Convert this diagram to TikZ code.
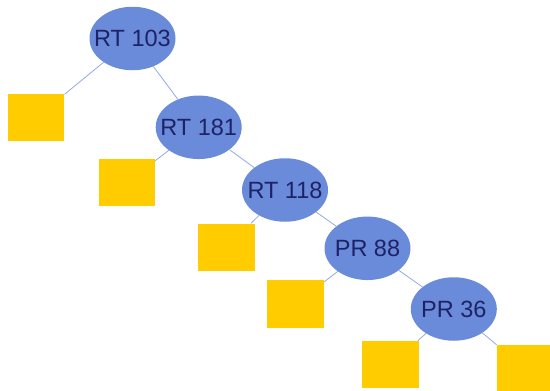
\documentclass[tikz,border=0pt]{standalone}
\usepackage{fontspec}
\setmainfont{Liberation Sans}
\usetikzlibrary{shapes.geometric}
\definecolor{nodeblue}{HTML}{6A8BD9}
\definecolor{textnavy}{HTML}{1E2266}
\definecolor{leafgold}{HTML}{FFCC00}
\definecolor{edgeblue}{HTML}{93A9E2}
% label boxed at zero width so the ellipse keeps its fixed size
\newcommand{\keylabel}[1]{\makebox[0pt]{#1}}
\tikzset{
  inner/.style={ellipse, fill=nodeblue, draw=none, minimum width=86pt, minimum height=63.5pt,
    inner sep=0pt, text=textnavy, font=\fontsize{23.5}{23.5}\selectfont},
  leaf/.style={rectangle, fill=leafgold, draw=none, minimum width=56.5pt, minimum height=47.5pt, inner sep=0pt},
  link/.style={draw=edgeblue, line width=0.8pt}
}
\begin{document}
\begin{tikzpicture}[x=1pt,y=-1pt]
\useasboundingbox (0,0) rectangle (550,391);
% internal nodes
\node[inner] (n1) at (132.5,38.5) {\keylabel{RT 103}};
\node[inner] (n2) at (198.7,127.3) {\keylabel{RT 181}};
\node[inner] (n3) at (285,190) {\keylabel{RT 118}};
\node[inner] (n4) at (367.5,248.3) {\keylabel{PR 88}};
\node[inner] (n5) at (453.8,309) {\keylabel{PR 36}};
% leaves
\node[leaf] (l1) at (36.2,117.6) {};
\node[leaf] (l2) at (126.9,182.5) {};
\node[leaf] (l3) at (226.4,247.3) {};
\node[leaf] (l4) at (295.7,303.9) {};
\node[leaf] (l5) at (390.7,364.5) {};
\node[leaf] (l6) at (525,368.5) {};
% edges
\draw[link] (n1) -- (l1);
\draw[link] (n1) -- (n2);
\draw[link] (n2) -- (l2);
\draw[link] (n2) -- (n3);
\draw[link] (n3) -- (l3);
\draw[link] (n3) -- (n4);
\draw[link] (n4) -- (l4);
\draw[link] (n4) -- (n5);
\draw[link] (n5) -- (l5);
\draw[link] (n5) -- (l6);
\end{tikzpicture}
\end{document}
